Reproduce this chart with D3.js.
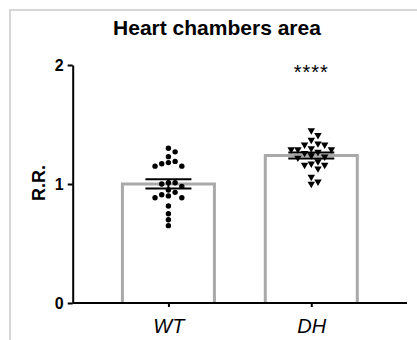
<!DOCTYPE html>
<html>
<head>
<meta charset="utf-8">
<script src="https://cdn.jsdelivr.net/npm/d3@7/dist/d3.min.js"></script>
<style>
  html, body { margin: 0; padding: 0; background: #fff; }
  svg { display: block; font-family: "Liberation Sans", Arial, Helvetica, sans-serif; }
</style>
</head>
<body>
<svg id="chart" width="417" height="340"></svg>
<script>
// Relative ratio of heart chamber area per animal, two groups
const categories = ["WT", "DH"];
const wtValues = [1.30, 1.27, 1.23, 1.19, 1.18, 1.17, 1.15, 1.15, 1.01, 1.01, 1.00,
                  0.98, 0.95, 0.93, 0.91, 0.90, 0.885, 0.885, 0.815, 0.75, 0.70, 0.65];
const dhValues = [1.45, 1.41, 1.37, 1.34, 1.33, 1.33, 1.30, 1.29, 1.29, 1.29, 1.27, 1.26,
                  1.24, 1.23, 1.22, 1.19, 1.17, 1.16, 1.16, 1.13, 1.06, 1.02, 1.00];
const yTicks = [0, 1, 2];
const significance = ["", "****"];
const titleText = "Heart chambers area";
const yLabel = "R.R.";

const groups = categories.map((c, i) => {
  const vals = i === 0 ? wtValues : dhValues;
  const mean = d3.mean(vals);
  const sem = d3.deviation(vals) / Math.sqrt(vals.length);
  return { name: c, values: vals, mean, sem, sig: significance[i] };
});

const svg = d3.select("#chart");

// light frame around the plot
svg.append("path")
  .attr("d", "M10,340 V10 H417")
  .attr("fill", "none")
  .attr("stroke", "#d6d6d6")
  .attr("stroke-width", 2);

const y = d3.scaleLinear().domain([0, 2]).range([303, 65]);
const x = d3.scalePoint().domain(categories).range([72.7, 407]).padding(0.67);

const barW = 92;
const capW = 46;

// bars (open at the bottom, sitting on the axis)
svg.append("g").selectAll("path")
  .data(groups)
  .join("path")
  .attr("d", d => {
    const cx = x(d.name);
    return `M${cx - barW / 2},${y(0)} V${y(d.mean)} H${cx + barW / 2} V${y(0)}`;
  })
  .attr("fill", "#fff")
  .attr("stroke", "#a9a9a9")
  .attr("stroke-width", 3);

// scatter layout: place each point as near the centre as it can go without overlap
function swarm(values, cx, step, minDist) {
  const sorted = values.slice().sort((a, b) => b - a);
  const placed = [];
  sorted.forEach(v => {
    const py = y(v);
    for (let k = 0; k < 40; k++) {
      const off = k === 0 ? 0 : (k % 2 ? 1 : -1) * Math.ceil(k / 2) * step;
      const px = cx + off;
      const ok = placed.every(p => Math.hypot(p.x - px, p.y - py) >= minDist);
      if (ok) { placed.push({ x: px, y: py, v }); break; }
    }
  });
  return placed;
}

const wtPts = swarm(groups[0].values, x("WT"), 6.7, 5.8);
const dhPts = swarm(groups[1].values, x("DH"), 6.7, 6.2);

svg.append("g").selectAll("circle")
  .data(wtPts)
  .join("circle")
  .attr("cx", d => d.x)
  .attr("cy", d => d.y)
  .attr("r", 2.7)
  .attr("fill", "#000");

svg.append("g").selectAll("path")
  .data(dhPts)
  .join("path")
  .attr("d", d3.symbol(d3.symbolTriangle).size(24))
  .attr("transform", d => `translate(${d.x},${d.y}) rotate(180)`)
  .attr("fill", "#000");

// mean ± SEM
const eb = svg.append("g").attr("stroke", "#000").attr("stroke-width", 2);
groups.forEach(d => {
  const cx = x(d.name);
  eb.append("line").attr("x1", cx).attr("x2", cx)
    .attr("y1", y(d.mean + d.sem)).attr("y2", y(d.mean - d.sem));
  [d.mean + d.sem, d.mean - d.sem].forEach(v => {
    eb.append("line").attr("x1", cx - capW / 2).attr("x2", cx + capW / 2)
      .attr("y1", y(v)).attr("y2", y(v));
  });
});

// axes
const yAxis = svg.append("g")
  .attr("transform", `translate(72.7,0)`)
  .call(d3.axisLeft(y).tickValues(yTicks).tickFormat(d3.format("d")).tickSize(5).tickSizeOuter(0).tickPadding(4));
yAxis.selectAll("path, line").attr("stroke", "#000").attr("stroke-width", 2);
yAxis.selectAll("text")
  .attr("fill", "#000")
  .style("font-size", "16px")
  .style("font-weight", "bold");

const xAxis = svg.append("g")
  .attr("transform", `translate(0,303)`)
  .call(d3.axisBottom(x).tickSize(4).tickSizeOuter(0).tickPadding(12));
xAxis.select(".domain").attr("d", "M72.7,0H407");
xAxis.selectAll("path, line").attr("stroke", "#000").attr("stroke-width", 2);
xAxis.selectAll("text")
  .attr("fill", "#000")
  .style("font-size", "20px")
  .style("font-style", "italic");

// significance marks
svg.append("g").selectAll("text")
  .data(groups)
  .join("text")
  .attr("x", d => x(d.name))
  .attr("y", 79)
  .attr("text-anchor", "middle")
  .style("font-size", "20px")
  .style("letter-spacing", "1px")
  .text(d => d.sig);

// title
svg.append("text")
  .attr("x", 217)
  .attr("y", 35)
  .attr("text-anchor", "middle")
  .style("font-size", "21px")
  .style("font-weight", "bold")
  .text(titleText);

// y-axis label
svg.append("text")
  .attr("transform", "translate(45,183) rotate(-90)")
  .attr("text-anchor", "middle")
  .style("font-size", "18px")
  .style("font-weight", "bold")
  .text(yLabel);
</script>
</body>
</html>
